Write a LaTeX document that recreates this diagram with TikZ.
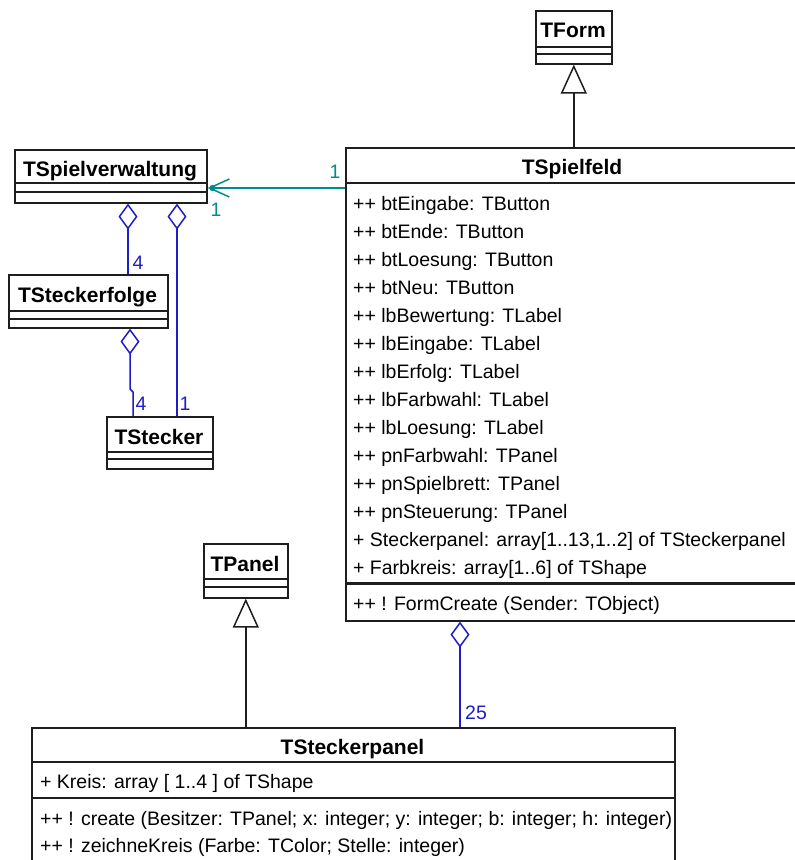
\documentclass[tikz,border=0pt]{standalone}
\usepackage{fontspec}
\setmainfont{Liberation Sans}
\usetikzlibrary{arrows.meta,calc}
\definecolor{assoccol}{RGB}{0,140,140}
\definecolor{aggcol}{RGB}{30,30,200}
\definecolor{boxcol}{RGB}{30,30,30}
\begin{document}
\begin{tikzpicture}[x=1pt,y=-1pt,
 clsbox/.style={draw=boxcol, line width=1.6pt, rectangle, inner sep=0pt, anchor=north west, fill=white},
 clsname/.style={font=\fontsize{21}{24}\selectfont\bfseries, inner sep=0pt, text height=14pt, text depth=4pt},
 member/.style={font=\fontsize{19.5}{22}\selectfont, inner sep=0pt, anchor=west, text height=14pt, text depth=4pt},
 sep/.style={draw=boxcol, line width=1.6pt},
 thicksep/.style={draw=boxcol, line width=2.4pt},
 inh/.style={draw=boxcol, line width=1.5pt, -{Triangle[open, length=29pt, width=26pt, line width=1.5pt]}},
 agg/.style={draw=aggcol, line width=1.5pt, -{Diamond[open, length=26pt, width=19pt, line width=1.5pt]}},
 assoc/.style={draw=assoccol, line width=1.5pt, -{Straight Barb[length=20pt, width=18pt, line width=1.5pt]}},
 multb/.style={font=\fontsize{19.5}{22}\selectfont, inner sep=0pt, text=aggcol},
 multt/.style={font=\fontsize{19.5}{22}\selectfont, inner sep=0pt, text=assoccol},
]
\useasboundingbox (0,0) rectangle (795,860);
\clip (0,0) rectangle (795,860);

% ---------- TForm ----------
\node[clsbox, minimum width=76pt, minimum height=53pt] (tform) at (535,10) {};
\node[clsname] (tformname) at (573,32) {TForm};
\draw[sep] (535,47) -- (611,47);
\draw[sep] (535,54) -- (611,54);

% ---------- TSpielfeld ----------
\node[clsbox, minimum width=455pt, minimum height=473pt] (tspielfeld) at (345,147) {};
\node[clsname] (tspielfeldname) at (572,169) {TSpielfeld};
\draw[thicksep] (345,183) -- (800,183);
\draw[thicksep] (345,583.5) -- (800,583.5);
\node[member] (sf1)  at (353,205) {++ btEingabe: TButton};
\node[member] (sf2)  at (353,233) {++ btEnde: TButton};
\node[member] (sf3)  at (353,261) {++ btLoesung: TButton};
\node[member] (sf4)  at (353,289) {++ btNeu: TButton};
\node[member] (sf5)  at (353,317) {++ lbBewertung: TLabel};
\node[member] (sf6)  at (353,345) {++ lbEingabe: TLabel};
\node[member] (sf7)  at (353,373) {++ lbErfolg: TLabel};
\node[member] (sf8)  at (353,401) {++ lbFarbwahl: TLabel};
\node[member] (sf9)  at (353,429) {++ lbLoesung: TLabel};
\node[member] (sf10) at (353,457) {++ pnFarbwahl: TPanel};
\node[member] (sf11) at (353,485) {++ pnSpielbrett: TPanel};
\node[member] (sf12) at (353,513) {++ pnSteuerung: TPanel};
\node[member] (sf13) at (353,541) {+ Steckerpanel: array[1..13,1..2] of TSteckerpanel};
\node[member] (sf14) at (353,569) {+ Farbkreis: array[1..6] of TShape};
\node[member] (sfm1) at (353,605) {++ ! FormCreate (Sender: TObject)};

% ---------- TSpielverwaltung ----------
\node[clsbox, minimum width=192pt, minimum height=53pt] (tspielverwaltung) at (14,149) {};
\node[clsname] (tspielverwaltungname) at (110,171) {TSpielverwaltung};
\draw[sep] (14,183) -- (206,183);
\draw[sep] (14,192) -- (206,192);

% ---------- TSteckerfolge ----------
\node[clsbox, minimum width=159pt, minimum height=53pt] (tsteckerfolge) at (8,274) {};
\node[clsname] (tsteckerfolgename) at (87.5,297) {TSteckerfolge};
\draw[sep] (8,311) -- (167,311);
\draw[sep] (8,319) -- (167,319);

% ---------- TStecker ----------
\node[clsbox, minimum width=106pt, minimum height=52pt] (tstecker) at (106,416) {};
\node[clsname] (tsteckername) at (159,439) {TStecker};
\draw[sep] (106,452) -- (212,452);
\draw[sep] (106,459) -- (212,459);

% ---------- TPanel ----------
\node[clsbox, minimum width=84pt, minimum height=54pt] (tpanel) at (203,543) {};
\node[clsname] (tpanelname) at (245,566) {TPanel};
\draw[sep] (203,579) -- (287,579);
\draw[sep] (203,587) -- (287,587);

% ---------- TSteckerpanel ----------
\node[clsbox, minimum width=643pt, minimum height=140pt] (tsteckerpanel) at (31,727) {};
\node[clsname] (tsteckerpanelname) at (352.5,749) {TSteckerpanel};
\draw[sep] (31,762) -- (674,762);
\draw[sep] (31,798) -- (674,798);
\node[member] (sp1) at (40,783) {+ Kreis: array [ 1..4 ] of TShape};
\node[member] (sp2) at (40,820) {++ ! create (Besitzer: TPanel; x: integer; y: integer; b: integer; h: integer)};
\node[member] (sp3) at (40,847) {++ ! zeichneKreis (Farbe: TColor; Stelle: integer)};

% ---------- connectors ----------
% generalisations
\draw[inh] (tspielfeld.north -| tform.south) -- (tform.south);
\draw[inh] (tsteckerpanel.north -| tpanel.south) -- (tpanel.south);

% association TSpielfeld -> TSpielverwaltung
\draw[assoc] ($(tspielfeld.north west)+(0,41)$) -- ($(tspielverwaltung.north east)+(0,39)$);
\fill[assoccol] ($(tspielverwaltung.north east)+(5,39)$) circle (3.2pt);
\node[multt] (m1a) at (335,172) {1};
\node[multt] (m1b) at (216,210) {1};

% aggregations
\draw[agg] ($(tsteckerfolge.north west)+(120,0)$) -- ($(tspielverwaltung.south west)+(114,0)$);
\draw[agg] ($(tstecker.north west)+(71,0)$) -- ($(tspielverwaltung.south west)+(163,0)$);
\coordinate (jog1) at (133,392);
\coordinate (jog2) at (130,389);
\draw[agg] ($(tstecker.north west)+(27,0)$) -- (jog1) -- (jog2) -- ($(tsteckerfolge.south west)+(122,0)$);
\coordinate (a25) at ($(tsteckerpanel.north west)+(429,0)$);
\draw[agg] (a25) -- (a25 |- tspielfeld.south);

\node[multb] (m4a) at (138,263) {4};
\node[multb] (m4b) at (141,404) {4};
\node[multb] (m1c) at (185,404) {1};
\node[multb] (m25) at (476,713) {25};
\end{tikzpicture}
\end{document}
